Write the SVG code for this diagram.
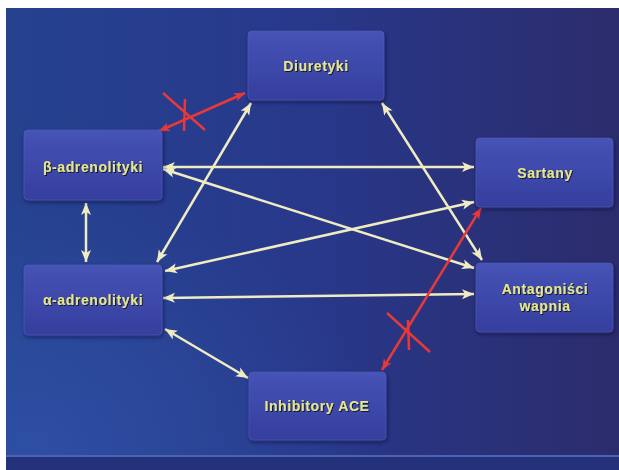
<svg xmlns="http://www.w3.org/2000/svg" width="619" height="470" viewBox="0 0 619 470">
  <defs>
    <linearGradient id="bg" x1="0" y1="0" x2="1" y2="0">
      <stop offset="0" stop-color="#25428f"/>
      <stop offset="0.5" stop-color="#28388a"/>
      <stop offset="1" stop-color="#2b2c6c"/>
    </linearGradient>
    <radialGradient id="glow" cx="0.05" cy="0.95" r="0.55">
      <stop offset="0" stop-color="#3358b0" stop-opacity="0.6"/>
      <stop offset="1" stop-color="#3358b0" stop-opacity="0"/>
    </radialGradient>
    <linearGradient id="box" x1="0" y1="0" x2="0" y2="1">
      <stop offset="0" stop-color="#4653b6"/>
      <stop offset="1" stop-color="#353e9e"/>
    </linearGradient>
    <filter id="shadow" x="-10%" y="-10%" width="125%" height="130%">
      <feDropShadow dx="1" dy="2" stdDeviation="2" flood-color="#101540" flood-opacity="0.6"/>
    </filter>
    <filter id="tshadow" x="-10%" y="-30%" width="120%" height="160%">
      <feDropShadow dx="1" dy="1" stdDeviation="0.6" flood-color="#0a0c30" flood-opacity="0.9"/>
    </filter>
    <marker id="ah" markerUnits="userSpaceOnUse" markerWidth="13" markerHeight="11" refX="12" refY="5" orient="auto-start-reverse" viewBox="0 0 13 10">
      <path d="M0,0 L12,5 L0,10 L3,5 z" fill="#f0ecc2"/>
    </marker>
    <marker id="ahr" markerUnits="userSpaceOnUse" markerWidth="12" markerHeight="10" refX="11" refY="4.5" orient="auto-start-reverse" viewBox="0 0 12 9">
      <path d="M0,0 L11,4.5 L0,9 L3,4.5 z" fill="#e8393a"/>
    </marker>
  </defs>
  <style>
    .node rect { fill: url(#box); filter: url(#shadow); stroke: #5561c0; stroke-opacity: 0.5; stroke-width: 1; }
    .node text { font-family: "Liberation Sans", Arial, sans-serif; font-weight: bold; font-size: 14px; letter-spacing: 0.6px; fill: #e4e68c; text-anchor: middle; filter: url(#tshadow); }
    .conn line { stroke: #f0ecc2; stroke-width: 2.5; marker-start: url(#ah); marker-end: url(#ah); }
    .conn line.red { stroke: #e8393a; marker-start: url(#ahr); marker-end: url(#ahr); }
    .conn line.x { stroke: #e8393a; stroke-width: 2.5; marker-start: none; marker-end: none; }
  </style>

  <rect width="619" height="470" fill="#ffffff"/>
  <rect x="6" y="8" width="613" height="462" fill="url(#bg)"/>
  <rect x="6" y="8" width="613" height="462" fill="url(#glow)"/>
  <rect x="6" y="455" width="613" height="2" fill="#4e62b4"/>
  <rect x="6" y="457" width="613" height="13" fill="#24327c"/>

  <g id="connectors" class="conn">
    <line x1="163" y1="167" x2="474" y2="167"/>
    <line x1="163" y1="169" x2="474" y2="268"/>
    <line x1="251" y1="103" x2="157" y2="262"/>
    <line x1="382" y1="103" x2="482" y2="260"/>
    <line x1="165" y1="271" x2="474" y2="202"/>
    <line x1="163" y1="298" x2="474" y2="294"/>
    <line x1="165" y1="329" x2="248" y2="378"/>
    <line x1="86" y1="203" x2="86" y2="262"/>
    <line class="red" x1="159" y1="131" x2="245" y2="93"/>
    <line class="red" x1="382" y1="370" x2="481" y2="208"/>
    <line class="x" x1="163" y1="93" x2="205" y2="130"/>
    <line class="x" x1="185" y1="99" x2="184" y2="131"/>
    <line class="x" x1="387" y1="313" x2="430" y2="352"/>
    <line class="x" x1="408" y1="320" x2="409" y2="350"/>
  </g>

  <g id="diuretyki" class="node">
    <rect x="248" y="31" width="136" height="69" rx="4"/>
    <text x="316" y="70.5">Diuretyki</text>
  </g>
  <g id="beta" class="node">
    <rect x="24" y="130" width="138" height="70" rx="4"/>
    <text x="93" y="172">β-adrenolityki</text>
  </g>
  <g id="sartany" class="node">
    <rect x="476" y="138" width="137" height="69" rx="4"/>
    <text x="545" y="177.5">Sartany</text>
  </g>
  <g id="alfa" class="node">
    <rect x="24" y="265" width="138" height="70" rx="4"/>
    <text x="93" y="305">α-adrenolityki</text>
  </g>
  <g id="antagonisci" class="node">
    <rect x="476" y="263" width="137" height="69" rx="4"/>
    <text x="545" y="294">Antagoniści</text>
    <text x="545" y="311">wapnia</text>
  </g>
  <g id="inhibitory" class="node">
    <rect x="249" y="372" width="137" height="68" rx="4"/>
    <text x="317" y="411">Inhibitory ACE</text>
  </g>
</svg>
